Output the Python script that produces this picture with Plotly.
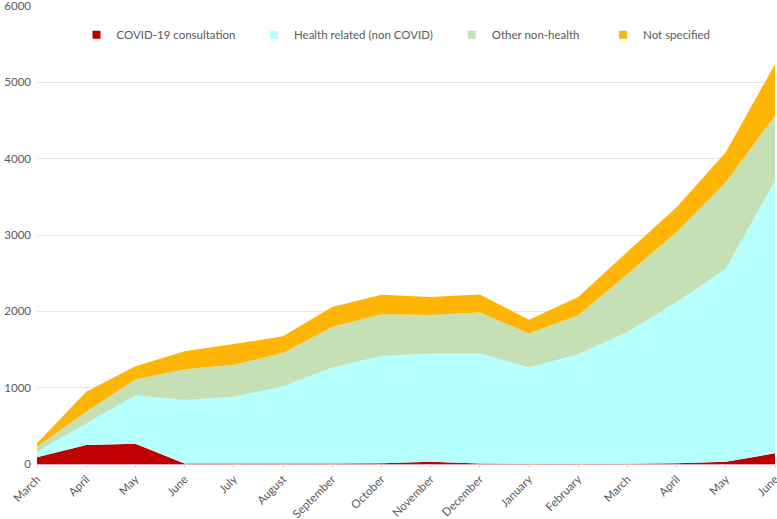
import plotly.graph_objects as go

months = ["March", "April", "May", "June", "July", "August", "September", "October",
          "November", "December", "January", "February", "March ", "April ", "May ", "June "]
month_labels = ["March", "April", "May", "June", "July", "August", "September", "October",
                "November", "December", "January", "February", "March", "April", "May", "June"]

covid = [88, 250, 265, 8, 8, 5, 5, 10, 28, 5, 3, 3, 3, 10, 28, 140]
health = [73, 282, 637, 829, 872, 1015, 1259, 1406, 1419, 1442, 1261, 1435, 1727, 2112, 2530, 3572]
other = [65, 152, 205, 405, 420, 435, 531, 545, 505, 538, 444, 510, 760, 915, 1134, 850]
not_specified = [46, 261, 174, 235, 271, 218, 261, 257, 235, 235, 183, 239, 290, 326, 392, 676]

series = [
    ("COVID-19 consultation", covid, "#C00000"),
    ("Health related (non COVID)", health, "#B5FFFF"),
    ("Other non-health", other, "#C5E0B4"),
    ("Not specified", not_specified, "#FFB505"),
]
legend_names = ["legend", "legend2", "legend3", "legend4"]
legend_x = [0.0535, 0.294, 0.562, 0.767]

fig = go.Figure()
for name, vals, col in series:
    fig.add_trace(go.Scatter(
        x=months, y=vals, name=name, stackgroup="one", mode="none",
        fillcolor=col, showlegend=False, hoverinfo="x+y+name"))
# legend entries as small squares, one legend box per entry
for (name, vals, col), lg in zip(series, legend_names):
    fig.add_trace(go.Scatter(
        x=[None], y=[None], name=name, mode="markers", legend=lg,
        marker=dict(symbol="square", size=8, color=col), showlegend=True))

font_color = "#595959"
legend_common = dict(orientation="h", y=0.937, xanchor="left", yanchor="middle",
                     itemwidth=30, font=dict(size=11.5, color=font_color),
                     bgcolor="rgba(0,0,0,0)")
fig.update_layout(
    width=777, height=519,
    margin=dict(l=37, r=2, t=6, b=55, autoexpand=False),
    paper_bgcolor="white", plot_bgcolor="white",
    font=dict(family="Lato, Open Sans, sans-serif", size=12, color=font_color),
    showlegend=True,
    **{lg: dict(x=lx, **legend_common) for lg, lx in zip(legend_names, legend_x)}
)
fig.update_xaxes(
    type="category", range=[0, len(months) - 1], automargin=False,
    tickmode="array", tickvals=months, ticktext=month_labels,
    tickangle=-45, showgrid=False, showline=True, linecolor="#e8b0b0",
    ticks="outside", ticklen=3, tickcolor="#d9d9d9",
    tickfont=dict(size=11.5, color=font_color), ticklabeloverflow="allow")
fig.update_yaxes(
    range=[0, 6000], dtick=1000, showgrid=True, gridcolor="#e6e6e6", gridwidth=1,
    zeroline=False, showline=False, automargin=False,
    tickfont=dict(size=11.5, color=font_color), ticklabeloverflow="allow",
    ticklabelstandoff=5)

fig.write_html("out.html", config={"displayModeBar": False},
               post_script="document.body.style.margin='0';")
